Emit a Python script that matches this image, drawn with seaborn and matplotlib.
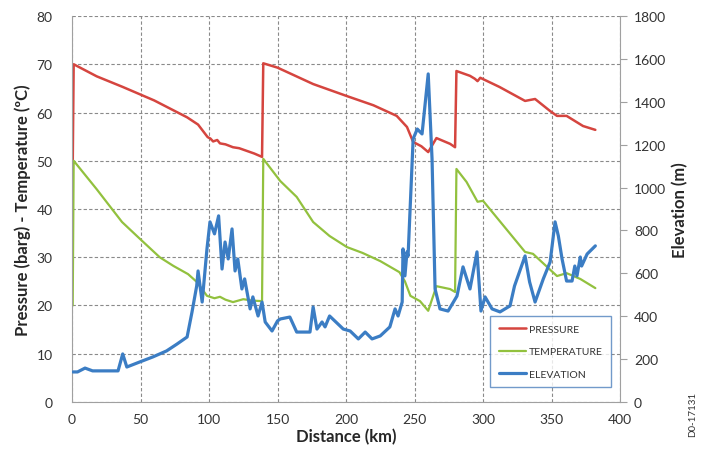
import numpy as np
import pandas as pd
import matplotlib
matplotlib.use("Agg")
import matplotlib.pyplot as plt
import seaborn as sns

# Pressure (barg) along the pipeline
press_km = [0.5, 1.2, 18, 37, 60, 84, 92, 99, 101, 103, 106, 108, 112, 117.5, 122, 128, 133, 138.7,
            139.6, 150, 176, 200.7, 220, 237, 244.5, 249, 255, 260, 266, 276, 279.6,
            280.6, 290.5, 294, 296, 298, 312, 330.7, 338, 349, 354, 361, 373, 382]
press_val = [49, 70, 67.5, 65.3, 62.5, 59, 57.5, 54.9, 54.6, 54.0, 54.3, 53.6, 53.4, 52.8, 52.6, 52.0, 51.5, 50.8,
             70.2, 69.3, 65.9, 63.4, 61.5, 59.3, 57.0, 53.9, 53.0, 51.8, 54.7, 53.5, 52.8,
             68.6, 67.6, 67.0, 66.5, 67.2, 65.3, 62.4, 62.8, 60.3, 59.3, 59.3, 57.2, 56.4]

# Temperature (ºC)
temp_km = [0.5, 1.2, 18, 36.5, 49.6, 64, 74, 84.7, 91, 98.5, 104, 108, 112, 117.5, 125, 132, 138.7,
           139.6, 152, 164, 176, 188, 200.7, 212, 225, 239, 243, 247, 254, 260, 266, 276, 279.6,
           280.6, 288, 296, 300, 330.7, 336.5, 354, 361, 371, 382]
temp_val = [20, 50, 44.1, 37.3, 33.8, 30, 28.2, 26.5, 24.9, 22, 21.5, 21.8, 21.2, 20.7, 21.3, 21.0, 20.9,
            50.4, 45.8, 42.5, 37.3, 34.4, 32.1, 30.9, 29.2, 26.9, 25.0, 22.0, 20.9, 18.9, 24, 23.4, 22.8,
            48.3, 45.6, 41.5, 41.7, 31.1, 30.7, 26.1, 26.7, 25.5, 23.6]

# Elevation (m)
elev_km = [0.7, 4, 9.5, 15, 33.6, 37, 40, 49.6, 59, 69, 76.6, 84, 87.6, 91, 92, 95, 98.5, 100.7, 104,
           107, 109.5, 111.7, 114, 116.8, 119, 121, 124, 126, 130, 132, 135.8, 138.7, 141, 146, 150,
           152, 159, 164, 173.7, 176, 178.8, 182.5, 184.7, 188, 198, 203, 209, 214, 219, 225, 232,
           235.8, 238, 241, 241.6, 243, 244.5, 245.3, 249, 252, 255.5, 260, 262.8, 265, 268.6, 274.5,
           281, 285.4, 290.5, 295.6, 298.5, 301.5, 306.6, 312.4, 319.7, 323, 330.7, 334, 338, 344,
           349, 352.6, 355, 357.7, 361, 365, 367, 368.6, 371, 372, 376, 382]
elev_val = [140, 140, 158, 145, 145, 224, 163, 187, 210, 238, 270, 303, 420, 541, 611, 466, 714, 840, 784,
            868, 620, 746, 667, 807, 611, 667, 527, 574, 434, 490, 401, 466, 373, 331, 378,
            387, 396, 326, 326, 443, 340, 373, 350, 401, 340, 331, 294, 326, 294, 308, 350,
            434, 401, 466, 714, 588, 700, 681, 1227, 1273, 1250, 1530, 1133, 527, 434, 424,
            494, 630, 527, 700, 424, 490, 434, 420, 448, 541, 681, 560, 466, 574,
            653, 840, 774, 667, 564, 564, 634, 588, 676, 634, 690, 728]

c_press = "#d5453f"
c_temp = "#92c13e"
c_elev = "#3b7dc4"

sns.set_style("white")
plt.rcParams['font.family'] = ['Lato', 'DejaVu Sans']

fig = plt.figure(figsize=(7.02, 4.6), dpi=100)
ax = fig.add_axes([0.1026, 0.124, 0.7806, 0.839])
ax2 = ax.twinx()

df_p = pd.DataFrame({'km': press_km, 'val': press_val})
df_t = pd.DataFrame({'km': temp_km, 'val': temp_val})
df_e = pd.DataFrame({'km': elev_km, 'val': elev_val})

sns.lineplot(data=df_p, x='km', y='val', ax=ax, color=c_press, lw=1.8, estimator=None, label='PRESSURE')
sns.lineplot(data=df_t, x='km', y='val', ax=ax, color=c_temp, lw=1.6, estimator=None, label='TEMPERATURE')
sns.lineplot(data=df_e, x='km', y='val', ax=ax2, color=c_elev, lw=2.3, estimator=None, label='ELEVATION')

ax.set_xlim(0, 400)
ax.set_ylim(0, 80)
ax2.set_ylim(0, 1800)
ax.set_xticks(np.arange(0, 401, 50))
ax.set_yticks(np.arange(0, 81, 10))
ax2.set_yticks(np.arange(0, 1801, 200))

ax.grid(True, ls=(0, (3, 2)), color='#8a8a8a', lw=0.8)
ax.set_axisbelow(True)
ax2.grid(False)

for a in (ax, ax2):
    for s in a.spines.values():
        s.set_visible(False)
ax.spines['bottom'].set_visible(True)
ax.spines['bottom'].set_color('#a0a0a0')
ax.spines['left'].set_visible(True)
ax.spines['left'].set_color('#a0a0a0')
ax2.spines['right'].set_visible(True)
ax2.spines['right'].set_color('#a0a0a0')

ax.tick_params(axis='x', length=0, labelsize=10, colors='#333333', pad=8)
ax.tick_params(axis='y', length=0, labelsize=10, colors='#333333', pad=14)
ax2.tick_params(axis='y', length=5, width=0.8, color='#a0a0a0', labelsize=10, labelcolor='#333333', pad=5)

ax.set_xlabel('Distance (km)', fontsize=12, fontweight='bold', labelpad=2)
ax.set_ylabel('Pressure (barg) - Temperature (ºC)', fontsize=12, fontweight='bold', labelpad=4)
ax2.set_ylabel('Elevation (m)', fontsize=12, fontweight='bold', labelpad=4)

h1, l1 = ax.get_legend_handles_labels()
h2, l2 = ax2.get_legend_handles_labels()
if ax.get_legend():
    ax.get_legend().remove()
leg = ax2.legend(h1 + h2, l1 + l2, loc='lower right', bbox_to_anchor=(0.984, 0.039),
                 borderaxespad=0, fontsize=7.5, frameon=True, fancybox=False, handlelength=2.6,
                 borderpad=0.8, labelspacing=1.25, handletextpad=0.3)
leg.get_frame().set_edgecolor('#4f81bd')
leg.get_frame().set_linewidth(1.0)
for t in leg.get_texts():
    t.set_color('#333333')

fig.text(0.98, 0.1, 'D0-17131', rotation=90, fontsize=7, ha='left', va='center', color='#333333')

plt.savefig('out.png', dpi=100)
